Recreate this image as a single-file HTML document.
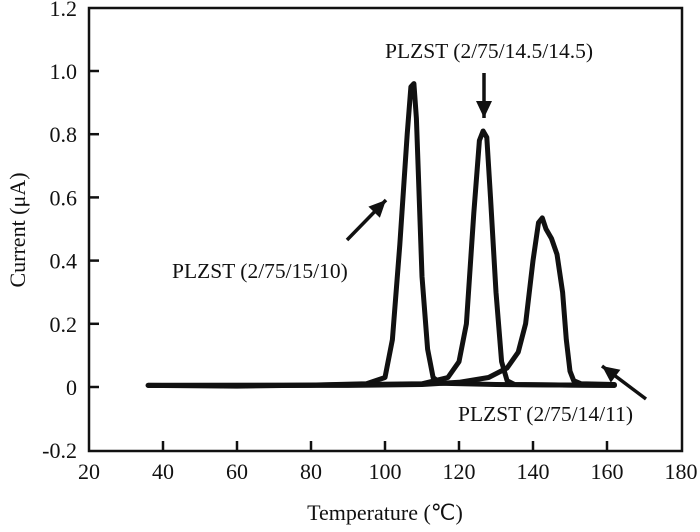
<!DOCTYPE html>
<html><head><meta charset="utf-8"><style>
body{margin:0;background:#fff}
svg text{font-family:"Liberation Serif",serif;fill:#111}
</style></head><body>
<svg width="700" height="527" xmlns="http://www.w3.org/2000/svg">
<g id="plot"></g>
</svg>
<script>
const xTicks=[20,40,60,80,100,120,140,160,180];
const yTicks=[-0.2,0,0.2,0.4,0.6,0.8,1.0,1.2];
const yTickLabels=["-0.2","0","0.2","0.4","0.6","0.8","1.0","1.2"];
const seriesNames=["PLZST (2/75/15/10)","PLZST (2/75/14.5/14.5)","PLZST (2/75/14/11)"];
const s1T=[36,60,80,95,100,102,104,106,107,107.8,108.5,110,111.5,113,115,130,162];
const s1V=[0.005,0.003,0.006,0.01,0.03,0.15,0.45,0.8,0.95,0.96,0.85,0.35,0.12,0.03,0.012,0.008,0.005];
const s2T=[36,80,110,117,120,122,124,125.5,126.5,127.5,128.5,130,131.5,133,135,150,162];
const s2V=[0.005,0.006,0.01,0.03,0.08,0.2,0.55,0.78,0.81,0.79,0.6,0.3,0.08,0.02,0.008,0.006,0.005];
const s3T=[36,90,110,120,128,133,136,138,140,141.5,142.5,143.5,145,146.5,148,149,150,151,153,162];
const s3V=[0.005,0.005,0.008,0.015,0.03,0.06,0.11,0.2,0.4,0.52,0.535,0.5,0.47,0.42,0.3,0.15,0.05,0.02,0.01,0.008];
const X=t=>89+(t-20)*3.7, Y=v=>387-v*316;
const g=document.getElementById('plot');const NS="http://www.w3.org/2000/svg";
function mk(tag,attrs,txt){const e=document.createElementNS(NS,tag);for(const k in attrs)e.setAttribute(k,attrs[k]);if(txt!==undefined)e.textContent=txt;g.appendChild(e);return e;}
let e=mk('rect',{x:89,y:8,width:593,height:443,fill:'none',stroke:'#111','stroke-width':2.5});


xTicks.forEach(t=>{
 if(t>20&&t<180){let l=mk('line',{x1:X(t),x2:X(t),y1:451,y2:441,stroke:'#111','stroke-width':2.5});
 
 }
 let tx=mk('text',{x:X(t),y:479,'font-size':22,'text-anchor':'middle'},String(t));
 
 
});
yTicks.forEach((v,i)=>{
 if(i>0&&i<yTicks.length-1){let l=mk('line',{x1:89,x2:99,y1:Y(v),y2:Y(v),stroke:'#111','stroke-width':2.5});
 
 }
 let tx=mk('text',{x:77,y:Y(v)+8,'font-size':22,'text-anchor':'end'},yTickLabels[i]);
 
 
});
[[s1T,s1V],[s2T,s2V],[s3T,s3V]].forEach((s,i)=>{
 const d=s[0].map((t,j)=>(j?'L':'M')+X(t).toFixed(1)+','+Y(s[1][j]).toFixed(1)).join(' ');
 let p=mk('path',{d:d,fill:'none',stroke:'#111','stroke-width':5,'stroke-linejoin':'round','stroke-linecap':'round'});
 
 
});
const labels=[[172,278,0],[385,58,1],[458,421,2]];
labels.forEach(a=>{let t=mk('text',{x:a[0],y:a[1],'font-size':21.5},seriesNames[a[2]]);
 
 });
function arrow(x1,y1,x2,y2){
 let l=mk('line',{x1:x1,y1:y1,x2:x2,y2:y2,stroke:'#111','stroke-width':3.5});
 
 
 const a=Math.atan2(y2-y1,x2-x1),L=17,W=8;
 const bx=x2-L*Math.cos(a),by=y2-L*Math.sin(a);
 const pts=[[x2,y2],[bx+W*Math.sin(a),by-W*Math.cos(a)],[bx-W*Math.sin(a),by+W*Math.cos(a)]].map(p=>p.join(',')).join(' ');
 let h=mk('polygon',{points:pts,fill:'#111'});
 
 
}
arrow(347,240,386,200);arrow(484,73,484,118);arrow(646,399,602,366);
let xt=mk('text',{x:385,y:520,'font-size':22,'text-anchor':'middle'},'Temperature (\u2103)');


let yt=mk('text',{x:0,y:0,'font-size':22,'text-anchor':'middle',transform:'translate(25,230) rotate(-90)'},'Current (\u03bcA)');


</script>
</body></html>
